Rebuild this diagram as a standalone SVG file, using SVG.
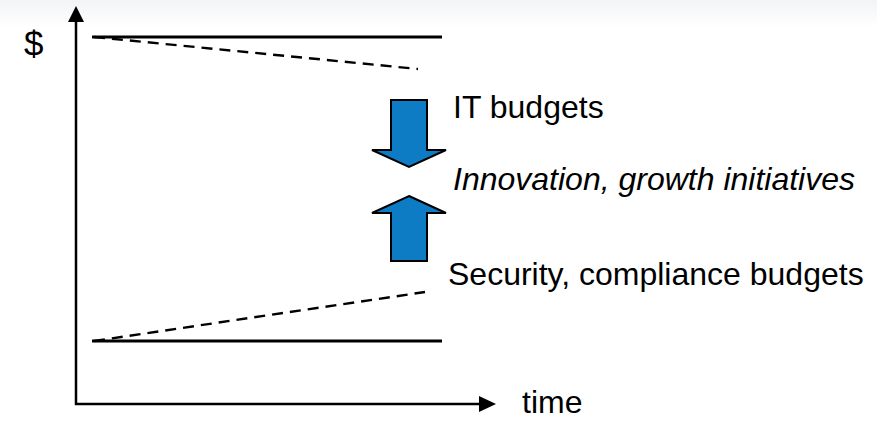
<svg xmlns="http://www.w3.org/2000/svg" width="877" height="421" viewBox="0 0 877 421">
  <defs>
    <linearGradient id="topband" x1="0" y1="0" x2="0" y2="1">
      <stop offset="0" stop-color="#f3f4f6"/>
      <stop offset="1" stop-color="#ffffff"/>
    </linearGradient>
  </defs>
  <style>
    .lbl { font-family: "Liberation Sans", Arial, sans-serif; font-size: 32px; fill: #000; }
    .it { font-style: italic; }
    .axis { stroke: #000; stroke-width: 2.5; fill: none; }
    .solid { stroke: #000; stroke-width: 3; fill: none; }
    .dash { stroke: #000; stroke-width: 2.4; stroke-dasharray: 11 7; fill: none; }
    .bigarrow { fill: #0E7CC4; stroke: #000; stroke-width: 2; stroke-linejoin: miter; }
    .head { fill: #000; }
  </style>
  <rect x="0" y="0" width="877" height="421" fill="#ffffff"/>
  <rect x="0" y="0" width="877" height="28" fill="url(#topband)"/>

  <g id="connectors">
    <!-- axes -->
    <line class="axis" x1="76" y1="405" x2="76" y2="22"/>
    <path class="head" d="M76,6 L68,22 L84,22 Z"/>
    <line class="axis" x1="75" y1="404" x2="480" y2="404"/>
    <path class="head" d="M496,404 L479,396 L479,412 Z"/>
    <!-- top budget lines -->
    <line class="solid" x1="92" y1="37" x2="442" y2="37"/>
    <line class="dash" x1="94" y1="37" x2="418" y2="69"/>
    <!-- bottom budget lines -->
    <line class="solid" x1="92" y1="341" x2="442" y2="341"/>
    <line class="dash" x1="94" y1="341" x2="425" y2="292"/>
  </g>

  <g id="arrow-down">
    <path class="bigarrow" d="M391,100 L427,100 L427,150 L446,150 L409,167 L372,150 L391,150 Z"/>
  </g>
  <g id="arrow-up">
    <path class="bigarrow" d="M409,196 L446,213 L427,213 L427,261 L391,261 L391,213 L372,213 Z"/>
  </g>

  <g id="label-dollar"><text class="lbl" x="24" y="56" style="font-size:35px">$</text></g>
  <g id="label-it"><text class="lbl" x="453" y="118">IT budgets</text></g>
  <g id="label-innovation"><text class="lbl it" x="453" y="190">Innovation, growth initiatives</text></g>
  <g id="label-security"><text class="lbl" x="448" y="285">Security, compliance budgets</text></g>
  <g id="label-time"><text class="lbl" x="522" y="413">time</text></g>
</svg>
